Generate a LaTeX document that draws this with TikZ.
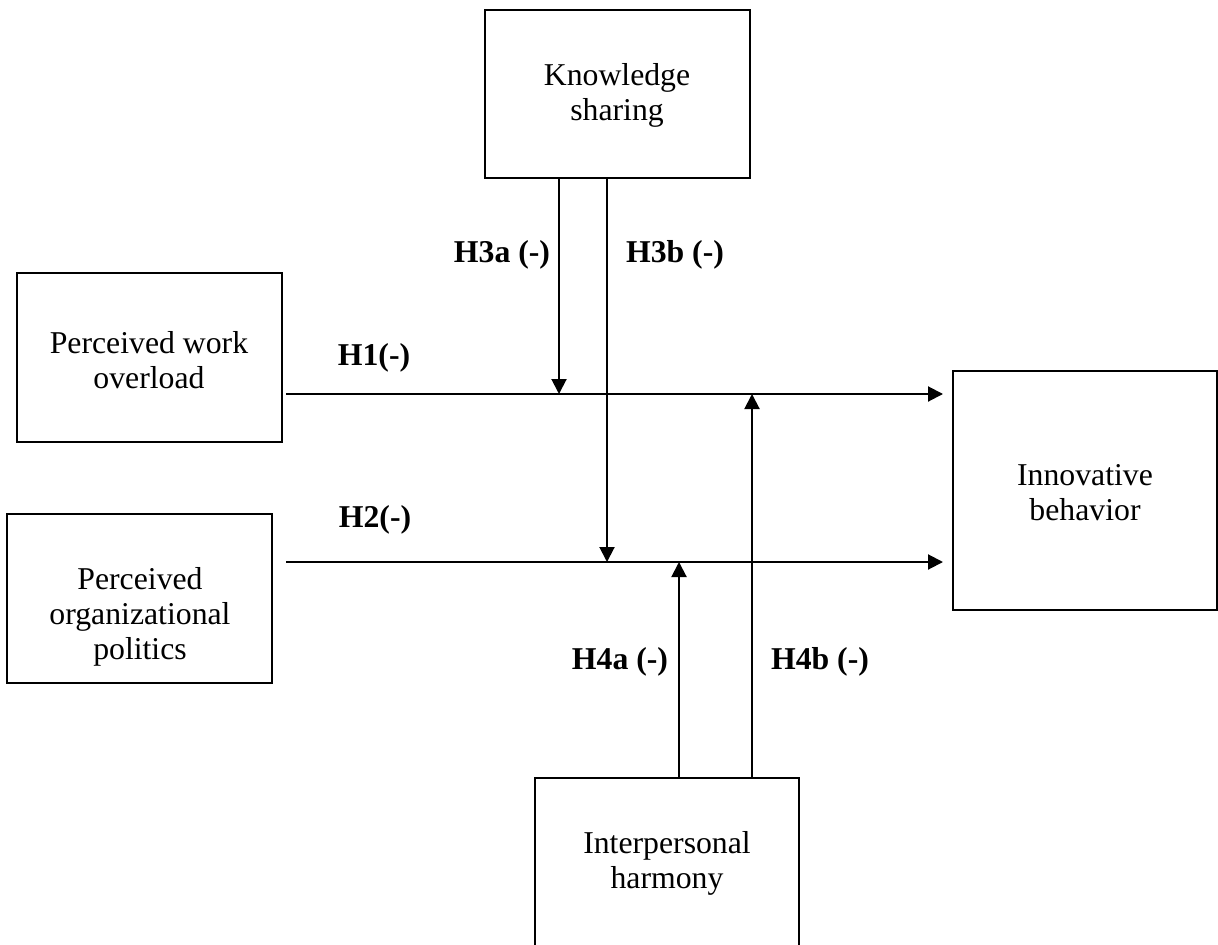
\documentclass[tikz,border=0pt]{standalone}
\usepackage{fontspec}
\setmainfont{Liberation Serif}
\usetikzlibrary{arrows.meta,fit}
\tikzset{
  box/.style={draw, line width=0.8pt, inner sep=0pt},
  txt/.style={align=center, inner sep=0pt, font=\fontsize{12.7}{14}\selectfont},
  hyp/.style={inner sep=0pt, font=\fontsize{12.7}{14}\selectfont\bfseries},
  arr/.style={line width=0.8pt, -{Triangle[length=6pt,width=6pt]}},
  ln/.style={line width=0.8pt}
}
\begin{document}
\begin{tikzpicture}[x=0.4pt,y=-0.4pt]
\useasboundingbox (0,0) rectangle (1218,945);
% boxes
\node[box, fit={(485,10) (750,178)}] (ks) {};
\node[box, fit={(17,273) (282,442)}] (pwo) {};
\node[box, fit={(7,514) (272,683)}] (pop) {};
\node[box, fit={(953,371) (1217,610)}] (ib) {};
\node[box, fit={(535,778) (799,948)}] (ih) {};
% box texts
\node[txt] (kst) at (617,95) {Knowledge\\sharing};
\node[txt] (pwot) at (149,360) {Perceived work\\overload};
\node[txt] (popt) at (140,617) {Perceived\\organizational\\politics};
\node[txt] (ibt) at (1085,493) {Innovative\\behavior};
\node[txt] (iht) at (667,863) {Interpersonal\\harmony};
% connector points
\coordinate (h1s) at (286,394);
\coordinate (h1e) at (943,394);
\coordinate (h2s) at (286,562);
\coordinate (h2e) at (943,562);
\coordinate (h3a) at (559,394);
\coordinate (h3b) at (607,562);
\coordinate (h4a) at (679,562);
\coordinate (h4b) at (752,394);
% main paths
\draw[arr] (h1s) -- (h1e);
\draw[arr] (h2s) -- (h2e);
% moderators
\draw[arr] (ks.south -| h3a) -- (h3a);
\draw[arr] (ks.south -| h3b) -- (h3b);
\draw[arr] (ih.north -| h4a) -- (h4a);
\draw[arr] (ih.north -| h4b) -- (h4b);
% labels
\node[hyp] (l1) at (374,358) {H1(-)};
\node[hyp] (l2) at (375,520) {H2(-)};
\node[hyp] (l3a) at (502,255) {H3a (-)};
\node[hyp] (l3b) at (675,255) {H3b (-)};
\node[hyp] (l4a) at (620,662) {H4a (-)};
\node[hyp] (l4b) at (820,662) {H4b (-)};
\end{tikzpicture}
\end{document}
